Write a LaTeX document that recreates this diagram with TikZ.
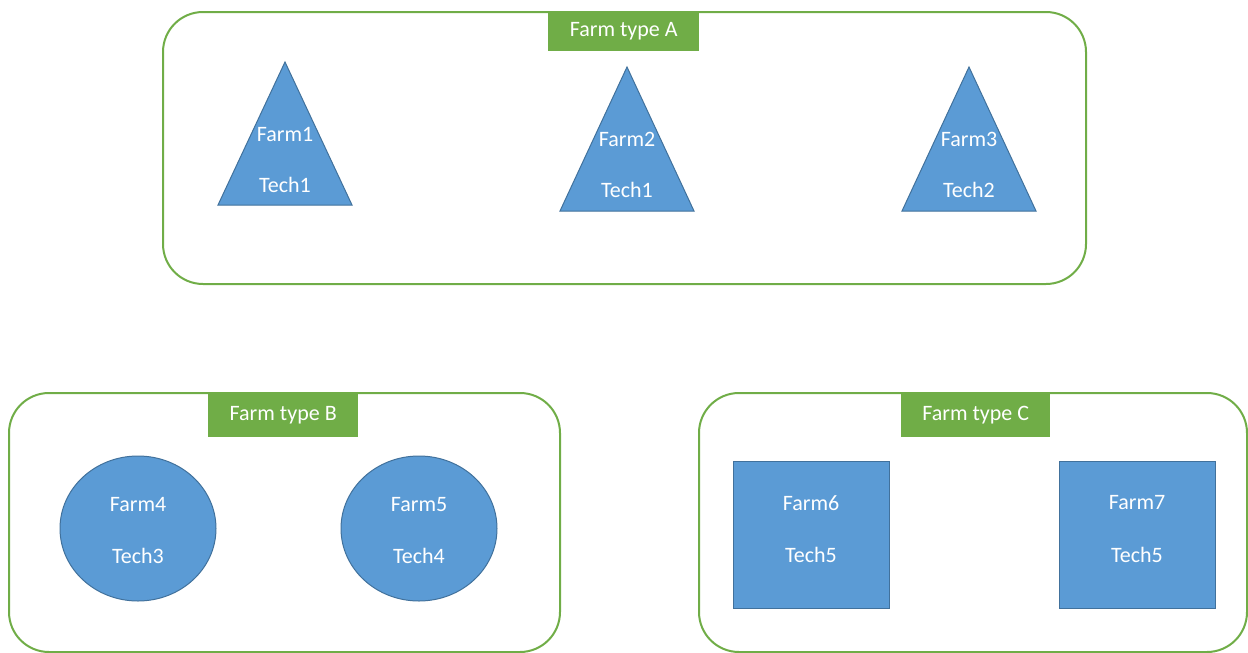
\documentclass[tikz,border=0pt]{standalone}
\usepackage{fontspec}
\setmainfont{Carlito}
\usetikzlibrary{shapes.geometric}
\definecolor{fillblue}{HTML}{5B9BD5}
\definecolor{edgeblue}{HTML}{41719C}
\definecolor{grn}{HTML}{70AD47}
\begin{document}
\begin{tikzpicture}[x=1pt,y=-1pt,
  group/.style={draw=grn,line width=2pt,rounded corners=40pt},
  tag/.style={fill=grn,draw=none,text=white,font=\fontsize{22}{26}\selectfont,inner sep=0pt,anchor=north west},
  farm/.style={fill=fillblue,draw=edgeblue,line width=1pt},
  lbl/.style={text=white,font=\fontsize{22}{26}\selectfont,inner sep=0pt}]
\useasboundingbox (0,0) rectangle (1248,653);
% Group A
\draw[group] (163,12) rectangle (1086,284);
\node[tag,minimum width=151pt,minimum height=39pt] (tagA) at (548,12) {Farm type A};
\draw[farm] (285,62) -- (352,205) -- (218,205) -- cycle;
\draw[farm] (627,67) -- (694,211) -- (560,211) -- cycle;
\draw[farm] (969,67) -- (1036,211) -- (902,211) -- cycle;
\node[lbl] (f1) at (285,134) {Farm1};
\node[lbl] (t1) at (285,185) {Tech1};
\node[lbl] (f2) at (627,139) {Farm2};
\node[lbl] (t2) at (627,190) {Tech1};
\node[lbl] (f3) at (969,139) {Farm3};
\node[lbl] (t3) at (969,190) {Tech2};
% Group B
\draw[group] (9,393) rectangle (560,652);
\node[tag,minimum width=150pt,minimum height=44pt] (tagB) at (208,393) {Farm type B};
\draw[farm] (138,528.5) ellipse [x radius=78pt,y radius=72.5pt];
\draw[farm] (419,528.5) ellipse [x radius=78pt,y radius=72.5pt];
\node[lbl] (f4) at (138,505) {Farm4};
\node[lbl] (t4) at (138,556) {Tech3};
\node[lbl] (f5) at (419,505) {Farm5};
\node[lbl] (t5) at (419,556) {Tech4};
% Group C
\draw[group] (699,393) rectangle (1247,652);
\node[tag,minimum width=149pt,minimum height=44pt] (tagC) at (901,393) {Farm type C};
\draw[farm] (733,461) rectangle (889,608);
\draw[farm] (1059,461) rectangle (1215,608);
\node[lbl] (f6) at (811,503) {Farm6};
\node[lbl] (t6) at (811,555) {Tech5};
\node[lbl] (f7) at (1137,503) {Farm7};
\node[lbl] (t7) at (1137,555) {Tech5};
\end{tikzpicture}
\end{document}
